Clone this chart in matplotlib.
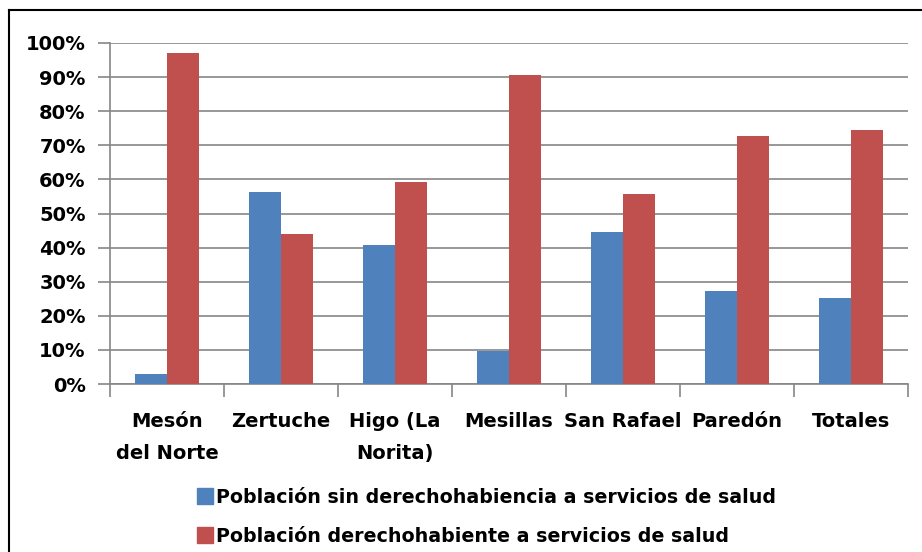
import matplotlib.pyplot as plt
import numpy as np
from matplotlib.lines import Line2D

plt.rcParams['font.family'] = ['DejaVu Sans']
plt.rcParams['font.weight'] = 'bold'

categorias = ['Mesón\ndel Norte', 'Zertuche', 'Higo (La\nNorita)', 'Mesillas',
              'San Rafael', 'Paredón', 'Totales']
sin_derecho = [3.0, 56.2, 40.9, 9.6, 44.5, 27.2, 25.2]
con_derecho = [97.1, 44.0, 59.1, 90.7, 55.7, 72.6, 74.4]
nombres = ['Población sin derechohabiencia a servicios de salud',
           'Población derechohabiente a servicios de salud']
colores = ['#4F81BD', '#C0504D']

fig = plt.figure(figsize=(9.22, 5.52), dpi=100)
ax = fig.add_axes([110 / 922, 1 - 384 / 552, 798 / 922, 341 / 552])

x = np.arange(len(categorias))
w = 0.285
ax.bar(x - w / 2, sin_derecho, w, color=colores[0], zorder=3)
ax.bar(x + w / 2, con_derecho, w, color=colores[1], zorder=3)

ax.set_xlim(-0.5, len(categorias) - 0.5)
ax.set_ylim(0, 100)
ax.set_yticks(range(0, 101, 10))
ax.set_yticklabels([f'{v}%' for v in range(0, 101, 10)], fontsize=14)
ax.yaxis.grid(True, color='#868686', lw=1.2, zorder=0)

ax.set_xticks(x)
ax.set_xticklabels(categorias, fontsize=14, linespacing=1.85)
ax.tick_params(axis='x', length=0, pad=20)
ax.set_xticks(np.arange(-0.5, len(categorias)), minor=True)
ax.tick_params(axis='x', which='minor', length=9, color='#868686', width=1.2)
ax.tick_params(axis='y', length=9, color='#868686', width=1.2, pad=8.5)

for s in ['top', 'right']:
    ax.spines[s].set_visible(False)
for s in ['left', 'bottom']:
    ax.spines[s].set_color('#868686')
    ax.spines[s].set_linewidth(1.2)

# leyenda debajo
handles = [Line2D([], [], marker='s', ls='', color=c, markersize=11.5) for c in colores]
fig.legend(handles, nombres, loc='center left', bbox_to_anchor=(195 / 922, 1 - 517 / 552),
           frameon=False, fontsize=13.7, handletextpad=0.12, labelspacing=1.05,
           handlelength=1.0, borderaxespad=0, borderpad=0)

# marco exterior
fig.add_artist(Line2D([9 / 922, 9 / 922], [0, 1 - 10 / 552], color='black', lw=1.5))
fig.add_artist(Line2D([9 / 922, 1], [1 - 10 / 552, 1 - 10 / 552], color='black', lw=1.5))

fig.savefig('out.png', dpi=100)
